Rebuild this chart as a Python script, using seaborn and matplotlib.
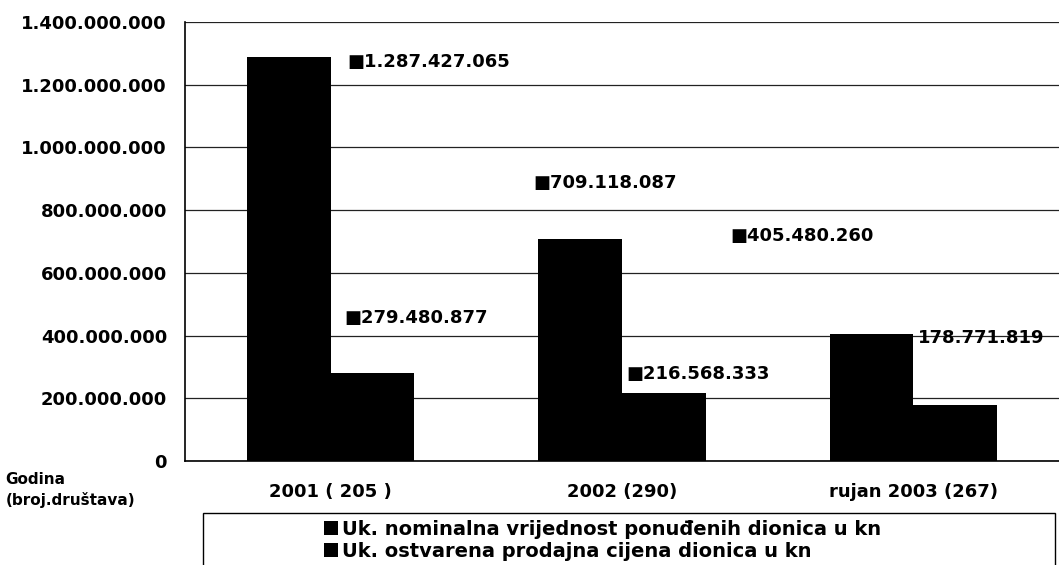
import numpy as np
import pandas as pd
import matplotlib
matplotlib.use("Agg")
import matplotlib.pyplot as plt
import seaborn as sns
from matplotlib.patches import Rectangle
from matplotlib.ticker import FuncFormatter, FixedLocator

# ---- data ----
categories = ["2001 ( 205 )", "2002 (290)", "rujan 2003 (267)"]
series_names = ["Uk. nominalna vrijednost ponuđenih dionica u kn",
                "Uk. ostvarena prodajna cijena dionica u kn"]
nominal_values = [1287427065, 709118087, 405480260]
sold_values = [279480877, 216568333, 178771819]
y_tick_values = [0, 200e6, 400e6, 600e6, 800e6, 1000e6, 1200e6, 1400e6]
axis_title = "Godina\n(broj.društava)"

# label placement (style): (x in category units, y in data units, show key square)
label_pos_nominal = [(0.058, 1272e6, True), (0.696, 887e6, True), (1.372, 718e6, True)]
label_pos_sold = [(0.048, 455e6, True), (1.014, 279e6, True), (2.017, 393e6, False)]

df = pd.DataFrame({
    "cat": categories * 2,
    "series": [series_names[0]] * 3 + [series_names[1]] * 3,
    "value": nominal_values + sold_values,
})

sns.set_style("white")
plt.rcParams["font.family"] = ["DejaVu Sans"]
plt.rcParams["font.weight"] = "bold"
plt.rcParams["text.color"] = "black"
plt.rcParams["xtick.color"] = "black"
plt.rcParams["ytick.color"] = "black"
plt.rcParams["xtick.labelcolor"] = "black"
plt.rcParams["ytick.labelcolor"] = "black"

fig = plt.figure(figsize=(10.59, 5.65), dpi=100)
ax = fig.add_axes([0.1747, 0.184, 0.8253, 0.777])

sns.barplot(data=df, x="cat", y="value", hue="series", order=categories,
            hue_order=series_names, palette=["black", "black"], width=0.575,
            dodge=True, saturation=1, edgecolor="black", linewidth=0, ax=ax,
            legend=True, zorder=3)

handles, labels = ax.get_legend_handles_labels()
ax.get_legend().remove()

ax.set_xlim(-0.5, 2.5)
ax.set_ylim(0, 1400e6)
ax.set_xlabel("")
ax.set_ylabel("")

fmt = lambda v, p: f"{int(round(v)):,}".replace(",", ".")
ax.yaxis.set_major_locator(FixedLocator(y_tick_values))
ax.yaxis.set_major_formatter(FuncFormatter(fmt))
ax.grid(axis="y", color="#222222", linewidth=0.9, zorder=0)
ax.grid(axis="x", visible=False)

for s in ["top", "right"]:
    ax.spines[s].set_visible(False)
for s in ["left", "bottom"]:
    ax.spines[s].set_color("black")
    ax.spines[s].set_linewidth(1.2)

ax.tick_params(axis="y", which="major", direction="out", length=5, width=1,
               color="black", labelsize=13, pad=8, labelcolor="black")
ax.tick_params(axis="x", which="major", length=0, labelsize=13, pad=16, labelcolor="black")
ax.set_xticks(range(len(categories)))
ax.set_xticklabels(categories, fontweight="bold", color="black")
ax.xaxis.set_minor_locator(FixedLocator([-0.5, 0.5, 1.5]))
ax.tick_params(axis="x", which="minor", direction="out", length=6, width=1, color="black")
for t in ax.get_yticklabels():
    t.set_fontweight("bold")
    t.set_color("black")

# value labels
for vals, poss in ((nominal_values, label_pos_nominal), (sold_values, label_pos_sold)):
    for v, (x, y, key) in zip(vals, poss):
        txt = ("■" if key else "") + fmt(v, None)
        ax.text(x, y, txt, ha="left", va="center", fontsize=13,
                fontweight="bold", color="black", zorder=5)

fig.text(0.005, 1 - 490 / 565, axis_title, ha="left", va="center",
         fontsize=11, fontweight="bold", linespacing=1.35, color="black")

# legend with frame box extending past bottom
fig.patches.append(Rectangle((203 / 1059, -0.05), (1055 - 203) / 1059, 0.05 + (565 - 513) / 565,
                             transform=fig.transFigure, fill=False, edgecolor="black",
                             linewidth=1.0))
leg = fig.legend(handles, labels, loc="upper left", bbox_to_anchor=(324 / 1059, 1 - 520 / 565),
                 frameon=False, handlelength=0.7, handleheight=0.7, handletextpad=0.25,
                 labelspacing=0.15, borderpad=0, borderaxespad=0,
                 prop={"size": 14, "weight": "bold"})
for t in leg.get_texts():
    t.set_color("black")

fig.savefig("out.png", dpi=100)
